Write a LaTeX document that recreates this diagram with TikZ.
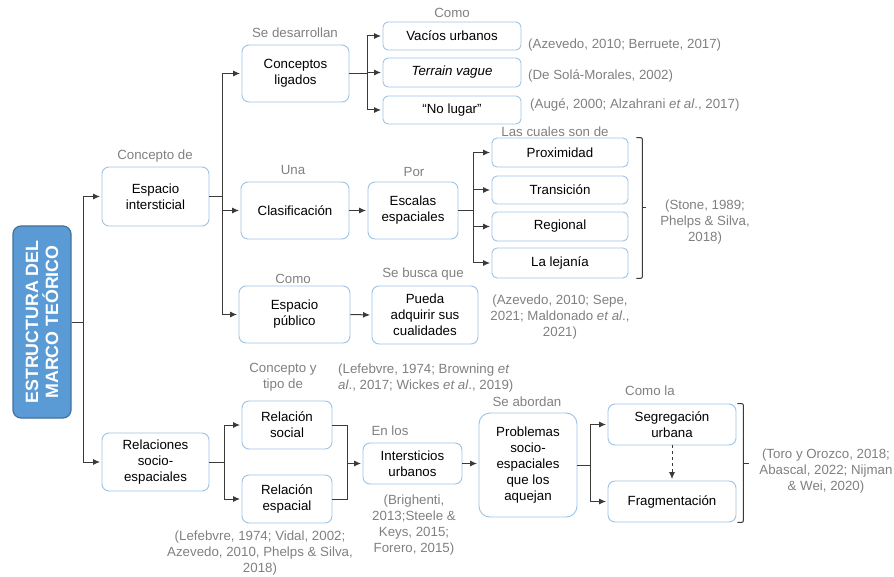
\documentclass[tikz,border=0pt]{standalone}
\usepackage{fontspec}
\setmainfont{Liberation Sans}
\usetikzlibrary{arrows.meta,calc}
\definecolor{boxc}{HTML}{9DC3E6}
\definecolor{mainfill}{HTML}{5B9BD5}
\definecolor{mainbord}{HTML}{41719C}
\definecolor{graytxt}{HTML}{808080}
\definecolor{linec}{HTML}{3A3A3A}
\tikzset{
  box/.style={draw=boxc, line width=0.9pt, fill=white, rounded corners=7pt, align=center, inner sep=0pt, font=\fontsize{13.3}{16}\selectfont},
  lbl/.style={text=graytxt, inner sep=0pt, align=center, font=\fontsize{13.3}{16}\selectfont},
  cite/.style={text=graytxt, inner sep=0pt, font=\fontsize{13.3}{16}\selectfont},
  conn/.style={draw=linec, line width=1pt},
  arr/.style={conn, shorten >=1.5pt, -{Latex[length=7pt,width=6pt]}},
}
\begin{document}
\begin{tikzpicture}[x=1pt,y=-1pt]
\useasboundingbox (0,0) rectangle (894,577);
% main
\node[draw=mainbord, line width=1.2pt, fill=mainfill, rounded corners=8pt, minimum width=58pt, minimum height=192pt, inner sep=0pt] (main) at (42,322) {};
\node[rotate=90, text=white, align=center, inner sep=0pt, font=\fontsize{17.8}{20}\selectfont\bfseries] (maint) at (main.center) {ESTRUCTURA DEL\\MARCO TEÓRICO};
% boxes
\node[box, minimum width=107pt, minimum height=59pt] (ei) at (155.5,196.5) {Espacio\\intersticial};
\node[box, minimum width=107pt, minimum height=58pt] (rse) at (155.5,462) {Relaciones\\socio-\\espaciales};
\node[box, minimum width=107pt, minimum height=57pt] (cl) at (295.5,73.5) {Conceptos\\ligados};
\node[box, rounded corners=5pt, minimum width=138pt, minimum height=28pt] (vu) at (452,36) {Vacíos urbanos};
\node[box, rounded corners=5pt, minimum width=138pt, minimum height=29pt] (tv) at (452,72.5) {\itshape Terrain vague};
\node[box, rounded corners=5pt, minimum width=138pt, minimum height=28pt] (nl) at (452,110) {“No lugar”};
\node[box, minimum width=108pt, minimum height=57pt] (clas) at (295,210.5) {Clasificación};
\node[box, minimum width=90pt, minimum height=57pt] (esc) at (413,210.5) {Escalas\\espaciales};
\node[box, rounded corners=5pt, minimum width=136pt, minimum height=29pt] (prox) at (560,152.5) {Proximidad};
\node[box, rounded corners=5pt, minimum width=136pt, minimum height=28pt] (trans) at (560,190) {Transición};
\node[box, rounded corners=5pt, minimum width=136pt, minimum height=29pt] (reg) at (560,226.5) {Regional};
\node[box, rounded corners=5pt, minimum width=136pt, minimum height=30pt] (lej) at (560,263) {La lejanía};
\node[box, minimum width=111pt, minimum height=57pt] (ep) at (294.5,314.5) {Espacio\\público};
\node[box, minimum width=106pt, minimum height=58pt] (pue) at (425,315) {Pueda\\adquirir sus\\cualidades};
\node[box, minimum width=90pt, minimum height=48pt] (rs) at (287,425) {Relación\\social};
\node[box, minimum width=90pt, minimum height=48pt] (re) at (287,499) {Relación\\espacial};
\node[box, minimum width=99pt, minimum height=41pt] (iu) at (412.5,463.5) {Intersticios\\urbanos};
\node[box, rounded corners=11pt, minimum width=98pt, minimum height=104pt] (prob) at (528,465) {Problemas\\socio-\\espaciales\\que los\\aquejan};
\node[box, minimum width=128pt, minimum height=41pt] (seg) at (672,424.5) {Segregación\\urbana};
\node[box, minimum width=128pt, minimum height=41pt] (frag) at (672,501.5) {Fragmentación};
% gray labels
\node[lbl] (l1) at (155,156) {Concepto de};
\node[lbl] (l2) at (295,33) {Se desarrollan};
\node[lbl] (l3) at (452,13) {Como};
\node[lbl] (l4) at (293,170) {Una};
\node[lbl] (l5) at (414,172) {Por};
\node[lbl] (l6) at (555,132) {Las cuales son de};
\node[lbl] (l7) at (293,279) {Como};
\node[lbl] (l8) at (423,274) {Se busca que};
\node[lbl] (l9) at (283,377) {Concepto y\\tipo de};
\node[lbl] (l10) at (390,431) {En los};
\node[lbl] (l11) at (527,402) {Se abordan};
\node[lbl] (l12) at (650,391) {Como la};
% citations
\node[cite, anchor=west] (c1) at (528,45) {(Azevedo, 2010; Berruete, 2017)};
\node[cite, anchor=west] (c2) at (528,76) {(De Solá-Morales, 2002)};
\node[cite, anchor=west] (c3) at (530,105) {(Augé, 2000; Alzahrani \textit{et al}., 2017)};
\node[cite, align=center] (c4) at (705,222) {(Stone, 1989;\\Phelps \& Silva,\\2018)};
\node[cite, align=center] (c5) at (560,317) {(Azevedo, 2010; Sepe,\\2021; Maldonado \textit{et al}.,\\2021)};
\node[cite, align=left, anchor=west] (c6) at (338,378.5) {(Lefebvre, 1974; Browning \textit{et}\\\textit{al}., 2017; Wickes \textit{et al}., 2019)};
\node[cite, align=center] (c7) at (414,525.5) {(Brighenti,\\2013;Steele \&\\Keys, 2015;\\Forero, 2015)};
\node[cite, align=center] (c8) at (260,553) {(Lefebvre, 1974; Vidal, 2002;\\Azevedo, 2010, Phelps \& Silva,\\2018)};
\node[cite, align=center] (c9) at (826,471.5) {(Toro y Orozco, 2018;\\Abascal, 2022; Nijman\\\& Wei, 2020)};
% connectors
\draw[conn] (main.east) -- ++(12,0) coordinate (j1);
\draw[arr] (j1) |- (ei.west);
\draw[arr] (j1) |- (rse.west);
\draw[conn] (ei.east) -- ++(13,0) coordinate (j2);
\draw[arr] (j2) |- (cl.west);
\draw[arr] (j2) |- (clas.west);
\draw[arr] (j2) |- (ep.west);
\draw[conn] (cl.east) -- ++(18,0) coordinate (j3);
\draw[arr] (j3) |- (vu.west);
\draw[arr] (j3) |- (tv.west);
\draw[arr] (j3) |- (nl.west);
\draw[arr] (clas.east) -- (esc.west);
\draw[conn] (esc.east) -- ++(15,0) coordinate (j4);
\draw[arr] (j4) |- (prox.west);
\draw[arr] (j4) |- (trans.west);
\draw[arr] (j4) |- (reg.west);
\draw[arr] (j4) |- (lej.west);
\draw[arr] (ep.east) -- (pue.west);
\draw[conn] (rse.east) -- ++(15,0) coordinate (j5);
\draw[arr] (j5) |- (rs.west);
\draw[arr] (j5) |- (re.west);
\draw[conn] (rs.east) -- ++(15,0) coordinate (j6) -- (j6 |- re.east) -- (re.east);
\draw[arr] (j6 |- iu.west) -- (iu.west);
\draw[arr] (iu.east) -- (iu.east -| prob.west);
\draw[conn] (prob.east) -- ++(13,0) coordinate (j7);
\draw[arr] (j7) |- (seg.west);
\draw[arr] (j7) |- (frag.west);
\draw[arr, dashed, line width=0.8pt] (seg.south) -- (frag.north);
% braces
\draw[conn, rounded corners=2pt] ($(prox.north east)+(8,0)$) -- ++(6,0) -- ($(lej.south east)+(14,0)$) -- ++(-6,0);
\draw[conn] ($(prox.north east)!0.5!(lej.south east)+(14,0)$) -- ++(4,0);
\draw[conn, rounded corners=2pt] ($(seg.north east)+(1,0)$) -- ++(6,0) -- ($(frag.south east)+(7,0)$) -- ++(-6,0);
\draw[conn] ($(seg.north east)!0.5!(frag.south east)+(7,0)$) -- ++(6,0);
\end{tikzpicture}
\end{document}
